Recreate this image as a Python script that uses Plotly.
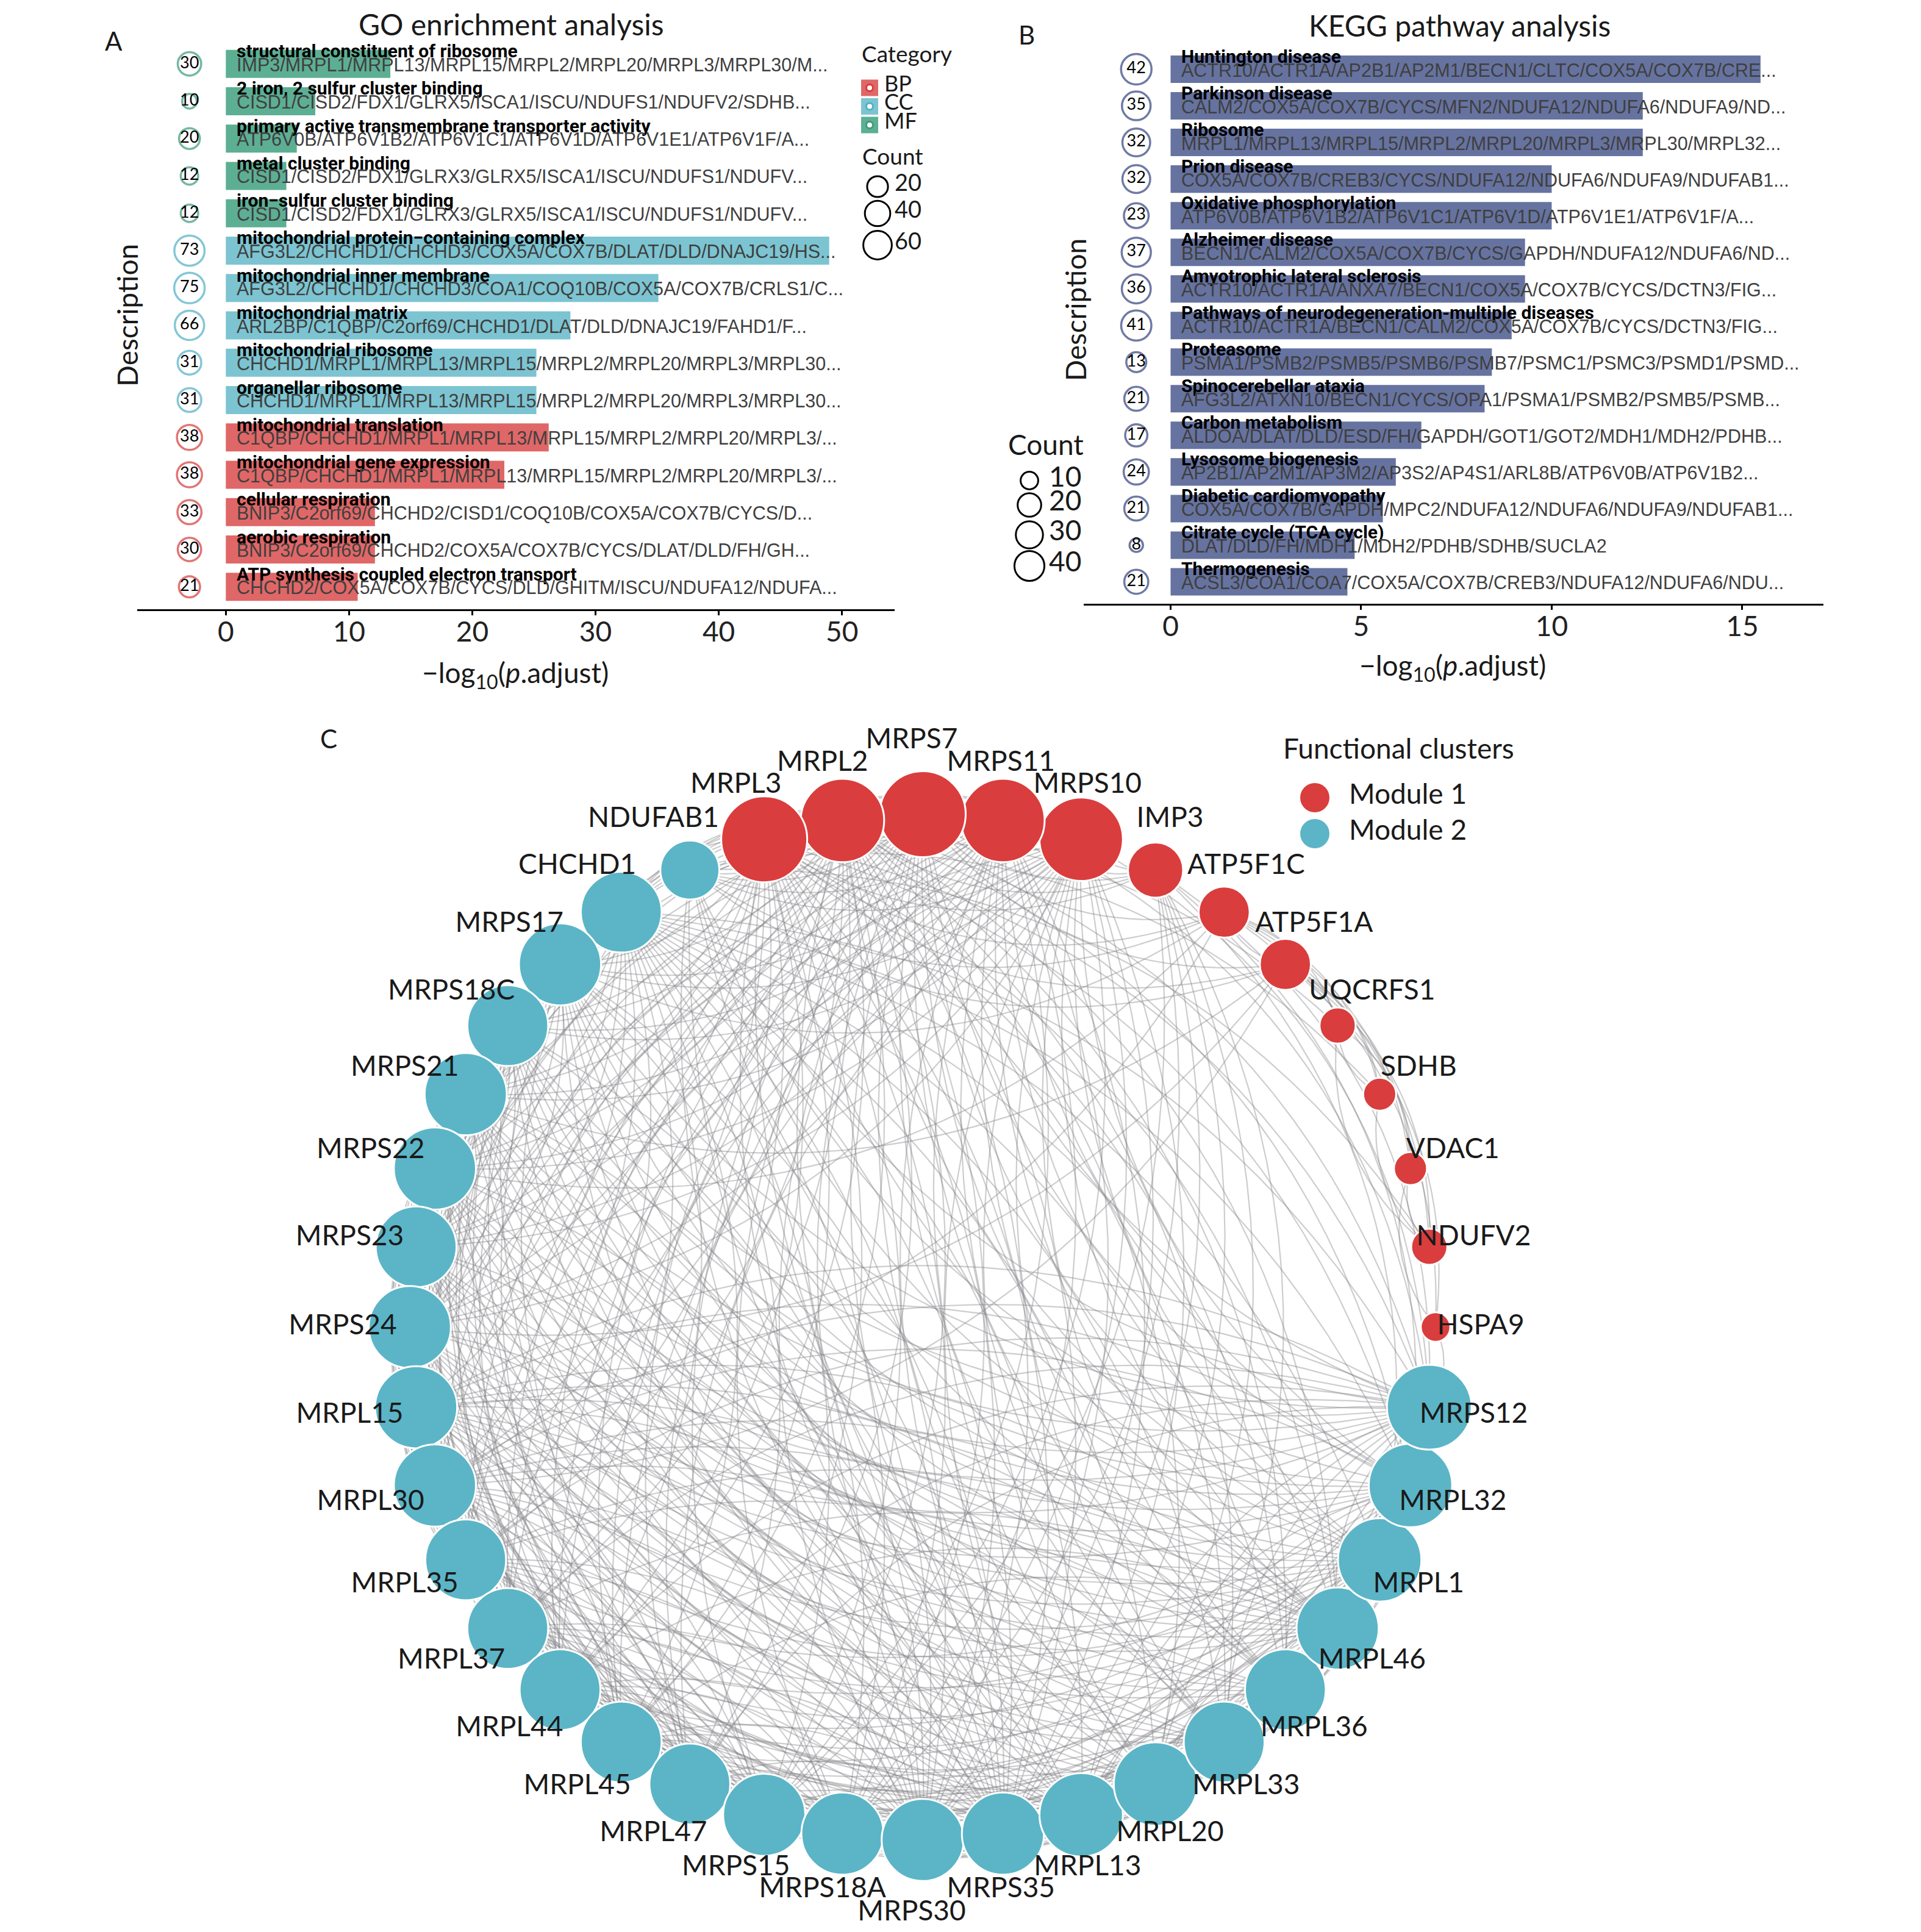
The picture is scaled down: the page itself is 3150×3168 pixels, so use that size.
import numpy as np
import plotly.graph_objects as go

W, H = 3150, 3168
LATO = "Lato, 'Open Sans', sans-serif"
BOLDC = "Roboto, 'Liberation Sans', sans-serif"
SANS = "'Liberation Sans', Arial, sans-serif"

# ---------------- Panel A: GO enrichment ----------------
go_desc = [
    "structural constituent of ribosome",
    "2 iron, 2 sulfur cluster binding",
    "primary active transmembrane transporter activity",
    "metal cluster binding",
    "iron\u2212sulfur cluster binding",
    "mitochondrial protein\u2212containing complex",
    "mitochondrial inner membrane",
    "mitochondrial matrix",
    "mitochondrial ribosome",
    "organellar ribosome",
    "mitochondrial translation",
    "mitochondrial gene expression",
    "cellular respiration",
    "aerobic respiration",
    "ATP synthesis coupled electron transport",
]
go_cat = ["MF", "MF", "MF", "MF", "MF", "CC", "CC", "CC", "CC", "CC",
          "BP", "BP", "BP", "BP", "BP"]
go_count = [30, 10, 20, 12, 12, 73, 75, 66, 31, 31, 38, 38, 33, 30, 21]
go_logp = [13.35, 7.26, 5.76, 4.91, 4.91, 48.96, 35.10, 27.96, 25.20, 25.20,
           26.20, 22.60, 12.10, 12.10, 10.70]
go_genes = [
    "IMP3/MRPL1/MRPL13/MRPL15/MRPL2/MRPL20/MRPL3/MRPL30/M...",
    "CISD1/CISD2/FDX1/GLRX5/ISCA1/ISCU/NDUFS1/NDUFV2/SDHB...",
    "ATP6V0B/ATP6V1B2/ATP6V1C1/ATP6V1D/ATP6V1E1/ATP6V1F/A...",
    "CISD1/CISD2/FDX1/GLRX3/GLRX5/ISCA1/ISCU/NDUFS1/NDUFV...",
    "CISD1/CISD2/FDX1/GLRX3/GLRX5/ISCA1/ISCU/NDUFS1/NDUFV...",
    "AFG3L2/CHCHD1/CHCHD3/COX5A/COX7B/DLAT/DLD/DNAJC19/HS...",
    "AFG3L2/CHCHD1/CHCHD3/COA1/COQ10B/COX5A/COX7B/CRLS1/C...",
    "ARL2BP/C1QBP/C2orf69/CHCHD1/DLAT/DLD/DNAJC19/FAHD1/F...",
    "CHCHD1/MRPL1/MRPL13/MRPL15/MRPL2/MRPL20/MRPL3/MRPL30...",
    "CHCHD1/MRPL1/MRPL13/MRPL15/MRPL2/MRPL20/MRPL3/MRPL30...",
    "C1QBP/CHCHD1/MRPL1/MRPL13/MRPL15/MRPL2/MRPL20/MRPL3/...",
    "C1QBP/CHCHD1/MRPL1/MRPL13/MRPL15/MRPL2/MRPL20/MRPL3/...",
    "BNIP3/C2orf69/CHCHD2/CISD1/COQ10B/COX5A/COX7B/CYCS/D...",
    "BNIP3/C2orf69/CHCHD2/COX5A/COX7B/CYCS/DLAT/DLD/FH/GH...",
    "CHCHD2/COX5A/COX7B/CYCS/DLD/GHITM/ISCU/NDUFA12/NDUFA...",
]
go_cat_levels = ["BP", "CC", "MF"]
go_count_breaks = [20, 40, 60]
go_xticks = [0, 10, 20, 30, 40, 50]

# ---------------- Panel B: KEGG ----------------
kegg_desc = [
    "Huntington disease", "Parkinson disease", "Ribosome", "Prion disease",
    "Oxidative phosphorylation", "Alzheimer disease", "Amyotrophic lateral sclerosis",
    "Pathways of neurodegeneration-multiple diseases", "Proteasome",
    "Spinocerebellar ataxia", "Carbon metabolism", "Lysosome biogenesis",
    "Diabetic cardiomyopathy", "Citrate cycle (TCA cycle)", "Thermogenesis",
]
kegg_count = [42, 35, 32, 32, 23, 37, 36, 41, 13, 21, 17, 24, 21, 8, 21]
kegg_logp = [15.48, 12.39, 12.39, 10.00, 10.00, 9.30, 9.30, 8.95, 8.43, 8.24,
             6.58, 5.91, 5.57, 4.83, 4.64]
kegg_genes = [
    "ACTR10/ACTR1A/AP2B1/AP2M1/BECN1/CLTC/COX5A/COX7B/CRE...",
    "CALM2/COX5A/COX7B/CYCS/MFN2/NDUFA12/NDUFA6/NDUFA9/ND...",
    "MRPL1/MRPL13/MRPL15/MRPL2/MRPL20/MRPL3/MRPL30/MRPL32...",
    "COX5A/COX7B/CREB3/CYCS/NDUFA12/NDUFA6/NDUFA9/NDUFAB1...",
    "ATP6V0B/ATP6V1B2/ATP6V1C1/ATP6V1D/ATP6V1E1/ATP6V1F/A...",
    "BECN1/CALM2/COX5A/COX7B/CYCS/GAPDH/NDUFA12/NDUFA6/ND...",
    "ACTR10/ACTR1A/ANXA7/BECN1/COX5A/COX7B/CYCS/DCTN3/FIG...",
    "ACTR10/ACTR1A/BECN1/CALM2/COX5A/COX7B/CYCS/DCTN3/FIG...",
    "PSMA1/PSMB2/PSMB5/PSMB6/PSMB7/PSMC1/PSMC3/PSMD1/PSMD...",
    "AFG3L2/ATXN10/BECN1/CYCS/OPA1/PSMA1/PSMB2/PSMB5/PSMB...",
    "ALDOA/DLAT/DLD/ESD/FH/GAPDH/GOT1/GOT2/MDH1/MDH2/PDHB...",
    "AP2B1/AP2M1/AP3M2/AP3S2/AP4S1/ARL8B/ATP6V0B/ATP6V1B2...",
    "COX5A/COX7B/GAPDH/MPC2/NDUFA12/NDUFA6/NDUFA9/NDUFAB1...",
    "DLAT/DLD/FH/MDH1/MDH2/PDHB/SDHB/SUCLA2",
    "ACSL3/COA1/COA7/COX5A/COX7B/CREB3/NDUFA12/NDUFA6/NDU...",
]
kegg_count_breaks = [10, 20, 30, 40]
kegg_xticks = [0, 5, 10, 15]

# ---------------- Panel C: network ----------------
net_nodes = [
    "HSPA9", "NDUFV2", "VDAC1", "SDHB", "UQCRFS1", "ATP5F1A", "ATP5F1C", "IMP3",
    "MRPS10", "MRPS11", "MRPS7", "MRPL2", "MRPL3",
    "NDUFAB1", "CHCHD1", "MRPS17", "MRPS18C", "MRPS21", "MRPS22", "MRPS23", "MRPS24",
    "MRPL15", "MRPL30", "MRPL35", "MRPL37", "MRPL44", "MRPL45", "MRPL47", "MRPS15",
    "MRPS18A", "MRPS30", "MRPS35", "MRPL13", "MRPL20", "MRPL33", "MRPL36", "MRPL46",
    "MRPL1", "MRPL32", "MRPS12",
]
net_module = [
    "Module 1", "Module 1", "Module 1", "Module 1", "Module 1", "Module 1", "Module 1",
    "Module 1", "Module 1", "Module 1", "Module 1", "Module 1", "Module 1",
    "Module 2", "Module 2", "Module 2", "Module 2", "Module 2", "Module 2", "Module 2",
    "Module 2", "Module 2", "Module 2", "Module 2", "Module 2", "Module 2", "Module 2",
    "Module 2", "Module 2", "Module 2", "Module 2", "Module 2", "Module 2", "Module 2",
    "Module 2", "Module 2", "Module 2", "Module 2", "Module 2", "Module 2",
]
# mitoribosome complex: all members interact with each other
ribosome_complex = [
    "MRPS10", "MRPS11", "MRPS7", "MRPL2", "MRPL3", "CHCHD1", "MRPS17", "MRPS18C",
    "MRPS21", "MRPS22", "MRPS23", "MRPS24", "MRPL15", "MRPL30", "MRPL35", "MRPL37",
    "MRPL44", "MRPL45", "MRPL47", "MRPS15", "MRPS18A", "MRPS30", "MRPS35", "MRPL13",
    "MRPL20", "MRPL33", "MRPL36", "MRPL46", "MRPL1", "MRPL32", "MRPS12",
]
extra_edges = [
    ("IMP3", "MRPS7"), ("IMP3", "MRPS11"), ("IMP3", "MRPS10"), ("IMP3", "MRPL2"),
    ("IMP3", "MRPL3"), ("IMP3", "MRPS12"), ("IMP3", "MRPL32"), ("IMP3", "MRPL1"),
    ("IMP3", "MRPL13"), ("IMP3", "MRPL20"), ("IMP3", "MRPS15"), ("IMP3", "MRPS18A"),
    ("IMP3", "MRPS30"), ("IMP3", "MRPS35"),
    ("ATP5F1C", "ATP5F1A"), ("ATP5F1C", "UQCRFS1"), ("ATP5F1C", "SDHB"),
    ("ATP5F1C", "NDUFV2"), ("ATP5F1C", "VDAC1"), ("ATP5F1C", "HSPA9"),
    ("ATP5F1C", "NDUFAB1"), ("ATP5F1C", "MRPS7"), ("ATP5F1C", "MRPL3"),
    ("ATP5F1C", "MRPS22"), ("ATP5F1C", "MRPS17"), ("ATP5F1C", "MRPL15"),
    ("ATP5F1A", "UQCRFS1"), ("ATP5F1A", "SDHB"), ("ATP5F1A", "NDUFV2"),
    ("ATP5F1A", "VDAC1"), ("ATP5F1A", "HSPA9"), ("ATP5F1A", "NDUFAB1"),
    ("ATP5F1A", "MRPS7"), ("ATP5F1A", "MRPL3"), ("ATP5F1A", "MRPS21"),
    ("ATP5F1A", "MRPS24"), ("ATP5F1A", "MRPL30"),
    ("UQCRFS1", "SDHB"), ("UQCRFS1", "NDUFV2"), ("UQCRFS1", "NDUFAB1"),
    ("UQCRFS1", "VDAC1"), ("SDHB", "NDUFV2"), ("SDHB", "NDUFAB1"),
    ("VDAC1", "HSPA9"), ("VDAC1", "NDUFV2"), ("NDUFV2", "NDUFAB1"),
    ("HSPA9", "MRPS12"),
    ("NDUFAB1", "MRPL3"), ("NDUFAB1", "MRPL2"), ("NDUFAB1", "MRPS7"),
    ("NDUFAB1", "MRPS11"), ("NDUFAB1", "MRPS10"), ("NDUFAB1", "MRPS12"),
    ("NDUFAB1", "MRPL32"), ("NDUFAB1", "MRPL1"), ("NDUFAB1", "MRPL46"),
    ("NDUFAB1", "MRPL13"), ("NDUFAB1", "MRPL20"),
]

# ---------------- colours ----------------
CAT_FILL = {"BP": "#E06767", "CC": "#7CC4D1", "MF": "#5DAF94"}
CAT_LINE = {"BP": "#D63B3B", "CC": "#4FB0C4", "MF": "#3C9B7A"}
KEGG_FILL = "#6673A0"
KEGG_LINE = "#34427E"
MOD_COL = {"Module 1": "#DA3D3D", "Module 2": "#5BB5C7"}
ANN_BIAS = 8  # px: visual-centre correction for annotation boxes


def px(x):
    return x / W


def py(y):
    return 1 - y / H


def size_scale(v, vmin, vmax, dmin, dmax):
    v = np.asarray(v, dtype=float)
    return dmin + (dmax - dmin) * np.sqrt((v - vmin) / (vmax - vmin))


fig = go.Figure()
annotations = []
shapes = []


def bar_panel(desc, genes, counts, logp, fill, line, xa, ya, circ_x, vmin, vmax, dmin, dmax):
    rows = np.arange(1, len(desc) + 1)
    fig.add_trace(go.Bar(
        x=logp, y=rows, base=0, orientation="h", width=0.75,
        marker=dict(color=fill, line=dict(width=0)),
        xaxis=xa, yaxis=ya, showlegend=False, hoverinfo="skip"))
    fig.add_trace(go.Scatter(
        x=[circ_x] * len(counts), y=rows, mode="markers+text",
        text=[str(c) for c in counts], textposition="middle center",
        textfont=dict(family=LATO, size=27, color="black"),
        marker=dict(size=size_scale(counts, vmin, vmax, dmin, dmax), color="white",
                    line=dict(color=line, width=3.5)),
        xaxis=xa, yaxis=ya, showlegend=False, hoverinfo="skip"))
    for r, d, g in zip(rows, desc, genes):
        annotations.append(dict(x=0, y=r, xref=xa, yref=ya, text="<b>%s</b>" % d,
                                showarrow=False, xanchor="left", yanchor="middle",
                                xshift=16, yshift=13 + ANN_BIAS,
                                font=dict(family=BOLDC, size=30, color="black")))
        annotations.append(dict(x=0, y=r, xref=xa, yref=ya, text=g,
                                showarrow=False, xanchor="left", yanchor="middle",
                                xshift=16, yshift=-9 + ANN_BIAS,
                                font=dict(family=SANS, size=30.5, color="#3f3f3f")))


go_vmin, go_vmax = min(go_count), max(go_count)
kg_vmin, kg_vmax = min(kegg_count), max(kegg_count)
bar_panel(go_desc, go_genes, go_count, go_logp, [CAT_FILL[c] for c in go_cat],
          [CAT_LINE[c] for c in go_cat], "x", "y", -2.95, go_vmin, go_vmax, 24, 50)
bar_panel(kegg_desc, kegg_genes, kegg_count, kegg_logp, KEGG_FILL, KEGG_LINE,
          "x2", "y2", -0.9, kg_vmin, kg_vmax, 22, 50)

# ======== Network ========
cx_px, cy_px, R_px = 1505, 2168, 841
net_top = 1150
n = len(net_nodes)
idx = {name: i for i, name in enumerate(net_nodes)}
ang = 2 * np.pi * np.arange(n) / n
pos = np.column_stack([np.cos(ang), np.sin(ang)])

edges = []
for a in range(len(ribosome_complex)):
    for b in range(a + 1, len(ribosome_complex)):
        edges.append((ribosome_complex[a], ribosome_complex[b]))
edges += extra_edges
degree = np.zeros(n)
for a, b in edges:
    degree[idx[a]] += 1
    degree[idx[b]] += 1

t = np.linspace(0, 1, 26)[:, None]
ex, ey = [], []
for a, b in edges:
    s, e = sorted((a, b))          # edge direction: from alphabetically first node
    p0, p2 = pos[idx[s]], pos[idx[e]]
    d = p2 - p0
    ctrl = (p0 + p2) / 2 + 0.28 * np.array([-d[1], d[0]])
    pts = (1 - t) ** 2 * p0 + 2 * (1 - t) * t * ctrl + t ** 2 * p2
    ex += list(pts[:, 0]) + [None]
    ey += list(pts[:, 1]) + [None]
fig.add_trace(go.Scatter(x=ex, y=ey, mode="lines",
                         line=dict(color="rgba(130,130,136,0.40)", width=2.2),
                         xaxis="x3", yaxis="y3", showlegend=False, hoverinfo="skip"))

node_d = 141 * np.sqrt(degree / degree.max())
fig.add_trace(go.Scatter(
    x=pos[:, 0], y=pos[:, 1], mode="markers",
    marker=dict(size=node_d, color=[MOD_COL[m] for m in net_module],
                line=dict(color="white", width=3), opacity=1),
    xaxis="x3", yaxis="y3", showlegend=False, hoverinfo="skip"))

# simple label repel: start at a fixed radial offset, push overlapping labels outward
LAB_FS = 46
LAB_DX = -18  # px, small global nudge to the left
lab_w = np.array([0.62 * LAB_FS * len(s) for s in net_nodes])
lab_h = 0.78 * LAB_FS
lab_off = np.full(n, 92.0)
for _ in range(600):
    Lx = cx_px + (R_px + lab_off) * np.cos(ang)
    Ly = cy_px - (R_px + lab_off) * np.sin(ang)
    moved = False
    for i in range(n):
        for j in range(i + 1, n):
            if (abs(Lx[i] - Lx[j]) < (lab_w[i] + lab_w[j]) / 2 + 4 and
                    abs(Ly[i] - Ly[j]) < lab_h):
                k = i if abs(np.sin(ang[i])) > abs(np.sin(ang[j])) else j
                lab_off[k] += 2
                moved = True
    if not moved:
        break
lab_x = ((R_px + lab_off) * np.cos(ang) + LAB_DX) / R_px
lab_y = (R_px + lab_off) * np.sin(ang) / R_px
fig.add_trace(go.Scatter(
    x=lab_x, y=lab_y, mode="text", text=net_nodes,
    textposition="middle center", textfont=dict(family=LATO, size=LAB_FS, color="#1a1a1a"),
    xaxis="x3", yaxis="y3", showlegend=False, hoverinfo="skip"))


# ======== legends (manual) ========
def text_ann(x, y, s, size, xanchor="left", angle=0, color="#1a1a1a", family=LATO):
    annotations.append(dict(x=px(x), y=py(y - ANN_BIAS), xref="paper", yref="paper", text=s,
                            showarrow=False, xanchor=xanchor, yanchor="middle",
                            textangle=angle, font=dict(family=family, size=size, color=color)))


def circ(cx, cy, d, line_color, fill="rgba(0,0,0,0)", lw=3):
    shapes.append(dict(type="circle", xref="paper", yref="paper",
                       x0=px(cx - d / 2), x1=px(cx + d / 2),
                       y0=py(cy + d / 2), y1=py(cy - d / 2),
                       line=dict(color=line_color, width=lw), fillcolor=fill))


# GO legend
text_ann(1403, 87, "Category", 37)
for k, c in enumerate(go_cat_levels):
    yc = 136 + k * 30.5
    shapes.append(dict(type="rect", xref="paper", yref="paper",
                       x0=px(1404), x1=px(1432), y0=py(yc + 13.5), y1=py(yc - 13.5),
                       line=dict(width=0), fillcolor=CAT_FILL[c]))
    circ(1418, yc, 11, CAT_LINE[c], fill="white", lw=3)
    text_ann(1440, yc, c, 36)
text_ann(1404, 255, "Count", 37)
for k, v in enumerate(go_count_breaks):
    yc = [298, 342, 394][k]
    d = float(size_scale(v, go_vmin, go_vmax, 24, 50))
    circ(1431, yc, d, "black")
    text_ann(1457, yc, str(v), 38)

# KEGG legend
text_ann(1643, 728, "Count", 46)
for k, v in enumerate(kegg_count_breaks):
    yc = [780, 820, 869, 920][k]
    d = float(size_scale(v, kg_vmin, kg_vmax, 22, 50))
    circ(1680, yc, d, "black")
    text_ann(1710, yc, str(v), 46)

# Network legend
text_ann(2094, 1226, "Functional clusters", 46)
for k, m in enumerate(["Module 1", "Module 2"]):
    yc = 1300 + k * 59
    circ(2148, yc, 48, MOD_COL[m], fill=MOD_COL[m], lw=0)
    text_ann(2202, yc, m, 46)

# titles, panel letters, axis titles
text_ann(830, 40, "GO enrichment analysis", 48, xanchor="center")
text_ann(2385, 42, "KEGG pathway analysis", 48, xanchor="center")
text_ann(178, 67, "A", 42, xanchor="center")
text_ann(1676, 57, "B", 42, xanchor="center")
text_ann(531, 1211, "C", 42, xanchor="center")
text_ann(192 + ANN_BIAS, 509 + ANN_BIAS, "Description", 46, xanchor="center", angle=-90)
text_ann(1747 + ANN_BIAS, 500 + ANN_BIAS, "Description", 46, xanchor="center", angle=-90)
text_ann(837, 1106, "\u2212log<sub>10</sub>(<i>p</i>.adjust)", 46, xanchor="center")
text_ann(2374, 1094, "\u2212log<sub>10</sub>(<i>p</i>.adjust)", 46, xanchor="center")

axis_common = dict(showline=True, linecolor="black", linewidth=3, ticks="outside",
                   ticklen=7, tickwidth=3, tickcolor="black", showgrid=False,
                   zeroline=False, ticklabelstandoff=-12,
                   tickfont=dict(family=LATO, size=46, color="#222222"))
hidden = dict(visible=False, showgrid=False, zeroline=False)

fig.update_layout(
    width=W, height=H, autosize=False, template="none",
    margin=dict(l=0, r=0, t=0, b=0),
    paper_bgcolor="white", plot_bgcolor="rgba(0,0,0,0)",
    font=dict(family=LATO),
    xaxis=dict(domain=[px(217), px(1459)], range=[-7.19, 54.27], anchor="y",
               tickvals=go_xticks, **axis_common),
    yaxis=dict(domain=[py(991), py(60)], range=[15.6, 0.4], anchor="x", **hidden),
    xaxis2=dict(domain=[px(1769), px(2982)], range=[-2.28, 17.13], anchor="y2",
                tickvals=kegg_xticks, **axis_common),
    yaxis2=dict(domain=[py(982), py(69.5)], range=[15.6, 0.4], anchor="x2", **hidden),
    xaxis3=dict(domain=[0, 1], range=[(0 - cx_px) / R_px, (W - cx_px) / R_px],
                anchor="y3", **hidden),
    yaxis3=dict(domain=[0, py(net_top)], range=[(cy_px - H) / R_px, (cy_px - net_top) / R_px],
                anchor="x3", **hidden),
    annotations=annotations, shapes=shapes,
)

fig.write_html("out.html")
